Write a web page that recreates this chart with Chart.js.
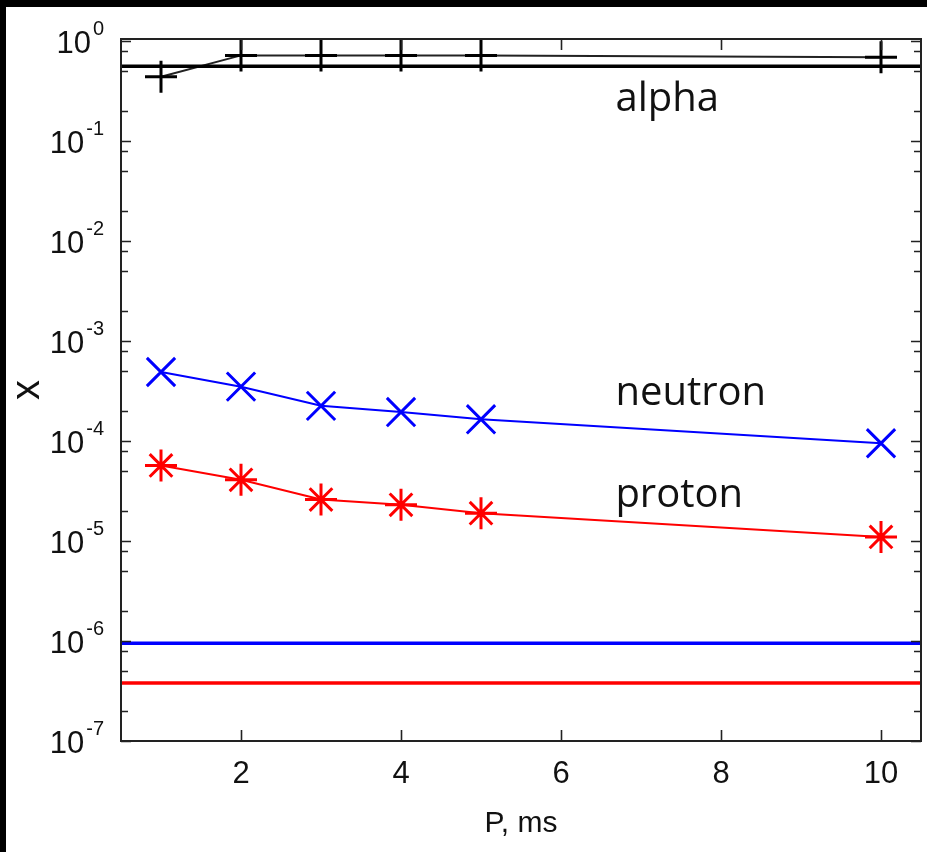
<!DOCTYPE html>
<html>
<head>
<meta charset="utf-8">
<script src="https://cdn.jsdelivr.net/npm/chart.js@4.4.1/dist/chart.umd.min.js"></script>
<style>
  html, body { margin: 0; padding: 0; background: #000; width: 927px; height: 852px; overflow: hidden; }
  #wrap { position: absolute; left: 6px; top: 7px; width: 921px; height: 845px; background: #fff; }
</style>
</head>
<body>
<div id="wrap"><canvas id="chart" width="921" height="845"></canvas></div>
<script>
// values
const periods = [1, 2, 3, 4, 5, 10];
const alpha   = [0.44, 0.72, 0.72, 0.72, 0.72, 0.69];
const neutron = [4.9e-4, 3.5e-4, 2.25e-4, 1.95e-4, 1.65e-4, 9.5e-5];
const proton  = [5.7e-5, 4.1e-5, 2.6e-5, 2.3e-5, 1.9e-5, 1.1e-5];

// flat reference levels across the whole P range
const xEdges = [0.5, 10.5];
const alphaLevel = 0.56;
const neutronLevel = 9.5e-7;
const protonLevel = 3.8e-7;

const xTickValues = [2, 4, 6, 8, 10];
const yDecades = [0, -1, -2, -3, -4, -5, -6, -7];
const yMinorSteps = [2, 5, 8];
const curveNames = ['alpha', 'neutron', 'proton'];

const points = ys => periods.map((p, i) => ({ x: p, y: ys[i] }));
const flat = v => xEdges.map(x => ({ x: x, y: v }));

const yTickValues = [];
yDecades.forEach(e => {
    yTickValues.push(Math.pow(10, e));
    if (e < 0) yMinorSteps.forEach(m => yTickValues.push(m * Math.pow(10, e)));
});

// where the curve names sit, in data units
const namePos = [[6.68, 0.2], [6.68, 2.3e-4], [6.68, 2.2e-5]];
const tickFont = '"Liberation Sans Narrow", "Liberation Sans", Arial, sans-serif';

const axisDecor = {
    id: 'axisDecor',
    afterDraw(chart) {
        const { ctx, chartArea: a, scales: { x, y } } = chart;
        ctx.save();
        ctx.strokeStyle = '#222';
        ctx.lineWidth = 2;
        ctx.strokeRect(a.left, a.top, a.right - a.left, a.bottom - a.top);

        ctx.lineWidth = 1.6;
        ctx.beginPath();
        x.ticks.forEach(t => {
            const px = Math.round(x.getPixelForValue(t.value)) + 0.5;
            ctx.moveTo(px, a.bottom); ctx.lineTo(px, a.bottom - 11);
            ctx.moveTo(px, a.top); ctx.lineTo(px, a.top + 11);
        });
        y.ticks.forEach(t => {
            const py = Math.round(y.getPixelForValue(t.value)) + 0.5;
            const len = t.major ? 10 : 7;
            ctx.moveTo(a.left, py); ctx.lineTo(a.left + len, py);
            ctx.moveTo(a.right, py); ctx.lineTo(a.right - len, py);
        });
        ctx.stroke();

        // decade labels 10^n
        ctx.fillStyle = '#111';
        ctx.textBaseline = 'alphabetic';
        const rightEdge = a.left - 17;
        yDecades.forEach(e => {
            const py = y.getPixelForValue(Math.pow(10, e));
            const ex = String(e);
            ctx.font = '20px ' + tickFont;
            const ew = ctx.measureText(ex).width;
            ctx.textAlign = 'left';
            ctx.fillText(ex, rightEdge - ew, py - 6);
            ctx.font = '31px ' + tickFont;
            ctx.textAlign = 'right';
            ctx.fillText('10', rightEdge - ew - 2, py + 12);
        });

        // curve names
        ctx.font = '40px "Open Sans", "Noto Sans", sans-serif';
        ctx.fillStyle = '#111';
        ctx.textAlign = 'left';
        curveNames.forEach((name, i) => {
            ctx.fillText(name, x.getPixelForValue(namePos[i][0]), y.getPixelForValue(namePos[i][1]));
        });
        ctx.restore();
    }
};

new Chart(document.getElementById('chart'), {
    type: 'line',
    data: {
        datasets: [
            { data: flat(alphaLevel), borderColor: '#000', borderWidth: 3.5, pointRadius: 0 },
            { data: flat(neutronLevel), borderColor: '#0000ff', borderWidth: 3.5, pointRadius: 0 },
            { data: flat(protonLevel), borderColor: '#ff0000', borderWidth: 3.5, pointRadius: 0 },
            { label: curveNames[0], data: points(alpha), borderColor: '#222', borderWidth: 2,
              pointStyle: 'cross', pointRadius: 16, pointBorderWidth: 3, pointBorderColor: '#000' },
            { label: curveNames[1], data: points(neutron), borderColor: '#0000ff', borderWidth: 2,
              pointStyle: 'crossRot', pointRadius: 20, pointBorderWidth: 3, pointBorderColor: '#0000ff' },
            { label: curveNames[2], data: points(proton), borderColor: '#ff0000', borderWidth: 2,
              pointStyle: 'star', pointRadius: 16, pointBorderWidth: 3, pointBorderColor: '#ff0000' }
        ]
    },
    options: {
        responsive: false,
        animation: false,
        layout: { autoPadding: false, padding: { top: 32, right: 6, left: 0, bottom: 0 } },
        plugins: { legend: { display: false }, tooltip: { enabled: false } },
        elements: { line: { tension: 0 } },
        scales: {
            x: {
                type: 'linear',
                min: 0.5,
                max: 10.5,
                afterBuildTicks: s => { s.ticks = xTickValues.map(v => ({ value: v })); },
                afterFit: s => { s.height = 111; },
                grid: { drawOnChartArea: false, drawTicks: false },
                border: { display: false },
                ticks: { padding: 15, color: '#111', font: { family: tickFont, size: 31 } },
                title: {
                    display: true,
                    text: 'P, ms',
                    color: '#111',
                    padding: { top: 0, bottom: 13 },
                    font: { family: tickFont, size: 30, lineHeight: 1 }
                }
            },
            y: {
                type: 'logarithmic',
                min: 1e-7,
                max: 1.05,
                afterBuildTicks: s => {
                    s.ticks = yTickValues.map(v => ({ value: v, major: Number.isInteger(Math.log10(v)) }));
                },
                afterFit: s => { s.width = 115; },
                grid: { drawOnChartArea: false, drawTicks: false },
                border: { display: false },
                ticks: { display: false },
                title: {
                    display: true,
                    text: 'x',
                    color: '#111',
                    padding: { top: 2, bottom: 0 },
                    font: { family: '"Liberation Sans", Arial, sans-serif', size: 40, lineHeight: 1 }
                }
            }
        }
    },
    plugins: [axisDecor]
});
</script>
</body>
</html>
